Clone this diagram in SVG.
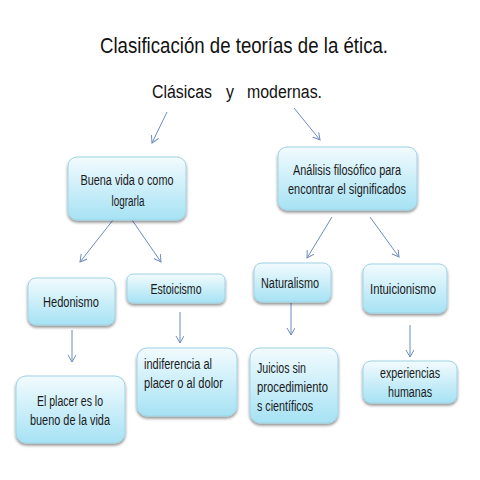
<svg xmlns="http://www.w3.org/2000/svg" width="480" height="480" viewBox="0 0 480 480">
<defs>
<linearGradient id="g" x1="0" y1="0" x2="0" y2="1">
<stop offset="0" stop-color="#f2fbfe"/>
<stop offset="1" stop-color="#a6e2f4"/>
</linearGradient>
<filter id="sh" x="-10%" y="-10%" width="130%" height="140%">
<feGaussianBlur in="SourceAlpha" stdDeviation="1.5"/>
<feOffset dx="0" dy="2" result="b"/>
<feComponentTransfer><feFuncA type="linear" slope="0.45"/></feComponentTransfer>
<feMerge><feMergeNode/><feMergeNode in="SourceGraphic"/></feMerge>
</filter>
<marker id="ah" markerWidth="10" markerHeight="10" refX="7" refY="4" orient="auto" markerUnits="userSpaceOnUse">
<path d="M0,0 L7,4 L0,8" fill="none" stroke="#6f8cbf" stroke-width="1"/>
</marker>
</defs>
<style>
.box{fill:url(#g);stroke:#9fd3e5;stroke-width:1;filter:url(#sh)}
.t{font-family:"Liberation Sans",Arial,sans-serif;font-size:14px;fill:#1a1a1a}
.c{text-anchor:middle}
.h{font-family:"Liberation Sans",Arial,sans-serif;fill:#111}
.ar{stroke:#6f8cbf;stroke-width:1;fill:none;marker-end:url(#ah)}
</style>
<rect width="480" height="480" fill="#fff"/>
<text class="h" x="100" y="53" font-size="22" textLength="288" lengthAdjust="spacingAndGlyphs">Clasificación de teorías de la ética.</text>
<text class="h" x="152" y="98" font-size="18" textLength="60" lengthAdjust="spacingAndGlyphs">Clásicas</text>
<text class="h" x="226" y="98" font-size="18" textLength="8" lengthAdjust="spacingAndGlyphs">y</text>
<text class="h" x="247" y="98" font-size="18" textLength="75" lengthAdjust="spacingAndGlyphs">modernas.</text>
<g id="connectors">
<line class="ar" x1="167" y1="112" x2="152" y2="143"/>
<line class="ar" x1="294" y1="108" x2="320" y2="140"/>
<line class="ar" x1="113" y1="220" x2="80" y2="262"/>
<line class="ar" x1="132" y1="220" x2="161" y2="262"/>
<line class="ar" x1="332" y1="217" x2="307" y2="258"/>
<line class="ar" x1="370" y1="217" x2="399" y2="257"/>
<line class="ar" x1="72" y1="330" x2="72" y2="362"/>
<line class="ar" x1="180" y1="312" x2="180" y2="343"/>
<line class="ar" x1="291" y1="303" x2="291" y2="335"/>
<line class="ar" x1="410" y1="325" x2="410" y2="357"/>
</g>
<g id="buena">
<rect class="box" x="68" y="157" width="118" height="63" rx="9"/>
<text class="t c" x="127" y="185" textLength="93" lengthAdjust="spacingAndGlyphs">Buena vida o como</text>
<text class="t c" x="128" y="206" textLength="33" lengthAdjust="spacingAndGlyphs">lograrla</text>
</g>
<g id="analisis">
<rect class="box" x="278" y="147" width="139" height="63" rx="9"/>
<text class="t c" x="347" y="175" textLength="108" lengthAdjust="spacingAndGlyphs">Análisis filosófico para</text>
<text class="t c" x="347" y="194" textLength="118" lengthAdjust="spacingAndGlyphs">encontrar el significados</text>
</g>
<g id="hedonismo">
<rect class="box" x="28" y="278" width="87" height="47" rx="8"/>
<text class="t c" x="71" y="307" textLength="56" lengthAdjust="spacingAndGlyphs">Hedonismo</text>
</g>
<g id="estoicismo">
<rect class="box" x="127" y="274" width="98" height="29" rx="6"/>
<text class="t c" x="176" y="294" textLength="51" lengthAdjust="spacingAndGlyphs">Estoicismo</text>
</g>
<g id="naturalismo">
<rect class="box" x="254" y="263" width="77" height="39" rx="8"/>
<text class="t c" x="290" y="288" textLength="58" lengthAdjust="spacingAndGlyphs">Naturalismo</text>
</g>
<g id="intuicionismo">
<rect class="box" x="363" y="264" width="84" height="49" rx="8"/>
<text class="t c" x="403" y="294" textLength="66" lengthAdjust="spacingAndGlyphs">Intuicionismo</text>
</g>
<g id="placer">
<rect class="box" x="16" y="376" width="109" height="67" rx="10"/>
<text class="t c" x="70" y="406" textLength="66" lengthAdjust="spacingAndGlyphs">El placer es lo</text>
<text class="t c" x="70" y="425" textLength="80" lengthAdjust="spacingAndGlyphs">bueno de la vida</text>
</g>
<g id="indiferencia">
<rect class="box" x="137" y="348" width="100" height="68" rx="10"/>
<text class="t" x="144" y="369" textLength="68" lengthAdjust="spacingAndGlyphs">indiferencia al</text>
<text class="t" x="144" y="388" textLength="79" lengthAdjust="spacingAndGlyphs">placer o al dolor</text>
</g>
<g id="juicios">
<rect class="box" x="250" y="348" width="88" height="75" rx="10"/>
<text class="t" x="257" y="373" textLength="49" lengthAdjust="spacingAndGlyphs">Juicios sin</text>
<text class="t" x="257" y="392" textLength="71" lengthAdjust="spacingAndGlyphs">procedimiento</text>
<text class="t" x="257" y="411" textLength="56" lengthAdjust="spacingAndGlyphs">s científicos</text>
</g>
<g id="experiencias">
<rect class="box" x="363" y="361" width="94" height="42" rx="8"/>
<text class="t c" x="410" y="378" textLength="60" lengthAdjust="spacingAndGlyphs">experiencias</text>
<text class="t c" x="410" y="397" textLength="44" lengthAdjust="spacingAndGlyphs">humanas</text>
</g>
</svg>
